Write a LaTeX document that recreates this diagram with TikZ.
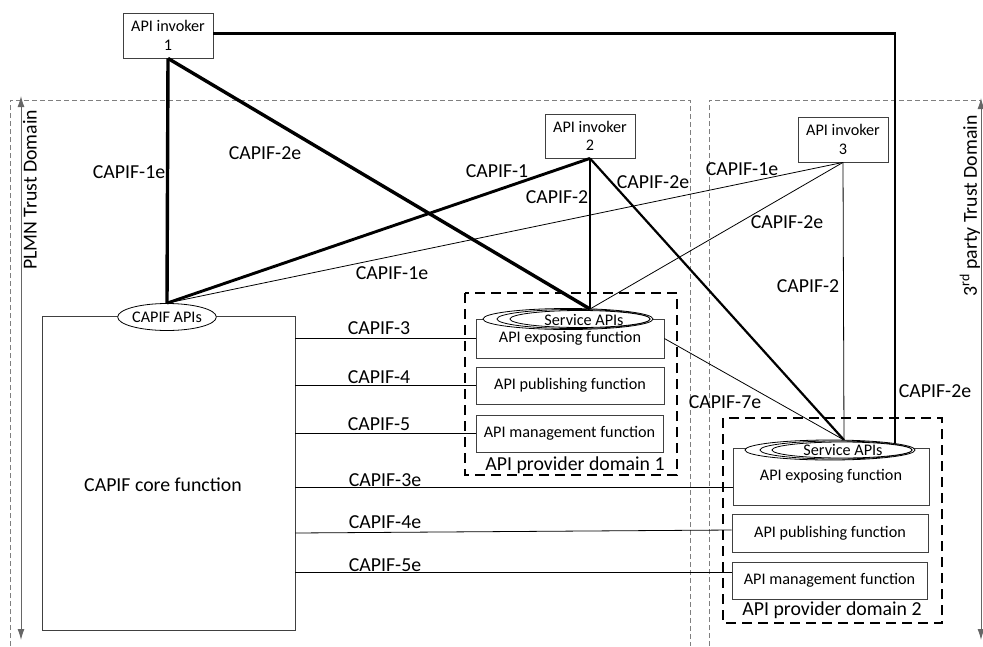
\documentclass[tikz,border=0pt]{standalone}
\usepackage{fontspec}
\setmainfont{Carlito}
\usetikzlibrary{shapes, arrows.meta, positioning}
\newcommand{\bigtxt}{\fontsize{19.8}{21}\selectfont}
\newcommand{\smalltxt}{\fontsize{16.2}{18.5}\selectfont}
\definecolor{boxgray}{HTML}{404040}
\definecolor{domgray}{HTML}{7F7F7F}
\tikzset{
    box/.style = {draw=boxgray, line width=0.8pt, inner sep=0pt, font=\smalltxt, align=center, fill=white}, % plain function box
    api/.style = {ellipse, draw=black, line width=0.8pt, inner sep=0pt, fill=white}, % API ellipse
    thinline/.style = {line width=0.8pt},
    lightline/.style = {line width=2.2pt},
    midline/.style = {line width=2.9pt},
    heavyline/.style = {line width=3.4pt},
    provbox/.style = {draw, line width=2pt, dash pattern=on 10pt off 6pt}, % provider domain
    trust/.style = {draw=domgray, line width=0.8pt, dash pattern=on 5pt off 3pt},
    trustarrow/.style = {draw=boxgray!80, line width=1pt, {Latex[length=11pt,width=7pt]}-{Latex[length=11pt,width=7pt]}},
    lbl/.style = {font=\bigtxt, inner sep=0pt}
}
\begin{document}
\begin{tikzpicture}[x=1pt, y=-1pt]
    \useasboundingbox (0,0) rectangle (983,646);
    % trust domains
    \draw[trust] (10,646) -- (10,100) -- (690,100) -- (690,646);
    \draw[trust] (709,646) -- (709,100) -- (981,100);
    \draw[trustarrow] (21,640) -- (21,96);
    \draw[trustarrow] (981,640) -- (981,98);
    \node[lbl, rotate=90] (plmn) at (30,190) {PLMN Trust Domain};
    \node[lbl, rotate=90] (third) at (970,206) {3\textsuperscript{rd} party Trust Domain};
    % invokers
    \node[box, minimum width=90pt, minimum height=45pt] (inv1) at (168,35.5) {API invoker\\1};
    \node[box, minimum width=90pt, minimum height=44pt] (inv2) at (590,136) {API invoker\\2};
    \node[box, minimum width=90pt, minimum height=45pt] (inv3) at (843,139.5) {API invoker\\3};
    % CAPIF core
    \node[box, minimum width=253pt, minimum height=314pt] (core) at (168.5,473) {};
    \node[lbl] (coretext) at (163,485) {CAPIF core function};
    \node[api, minimum width=98pt, minimum height=27pt, font=\smalltxt] (capifapis) at (167,317) {CAPIF APIs};
    % API provider domain 1
    \draw[provbox] (465,293) rectangle (677,475);
    \node[lbl] (dom1) at (575,465) {API provider domain 1};
    \node[box, minimum width=188pt, minimum height=39pt] (exp1) at (570,338.5) {API exposing function};
    \node[box, minimum width=188pt, minimum height=37pt] (pub1) at (570,385.5) {API publishing function};
    \node[box, minimum width=187pt, minimum height=37pt] (mgmt1) at (569.5,433.5) {API management function};
    \node[api, minimum width=170pt, minimum height=21pt] (sapi1a) at (568,319) {};
    \node[api, minimum width=153pt, minimum height=19pt] (sapi1b) at (573.5,319) {};
    \node[api, minimum width=140pt, minimum height=17pt] (sapi1) at (580,319) {};
    \node[font=\smalltxt, inner sep=0pt] (sapi1text) at (584,319.5) {Service APIs};
    % API provider domain 2
    \draw[provbox] (723,418) rectangle (942,623);
    \node[lbl] (dom2) at (832,610) {API provider domain 2};
    \node[box, minimum width=196pt, minimum height=57pt] (exp2) at (831,476.5) {API exposing function};
    \node[box, minimum width=196pt, minimum height=38pt] (pub2) at (830,533) {API publishing function};
    \node[box, minimum width=195pt, minimum height=37pt] (mgmt2) at (829.5,580.5) {API management function};
    \coordinate (sapi1top) at (590,309);
    \coordinate (sapi2top) at (844,440);
    \coordinate (sapi2right) at (895,443);
    % reference points
    \path (inv1.south) edge[heavyline] (capifapis.north);
    \path (inv1.south) edge[heavyline] (sapi1top);
    \path (inv2.south) edge[midline] (capifapis.north);
    \path (inv2.south) edge[midline] (sapi1top);
    \path (inv2.south) edge[lightline] (sapi2top);
    \path (inv3.south) edge[thinline] (capifapis.north);
    \path (inv3.south) edge[thinline] (sapi1top);
    \path (inv3.south) edge[thinline] (sapi2top);
    \path (exp1.east) edge[thinline] (sapi2top);
    \draw[midline] ([yshift=2pt]inv1.east) -| (sapi2right);
    \path (core.east |- exp1.west) edge[thinline] (exp1.west);
    \path (core.east |- pub1.west) edge[thinline] (pub1.west);
    \path (core.east |- mgmt1.west) edge[thinline] (mgmt1.west);
    \path (core.east |- 0,487) edge[thinline] (exp2.west |- 0,487);
    \path (core.east |- pub2.west) edge[thinline] ([yshift=3pt]pub2.west);
    \path (core.east |- 0,572) edge[thinline] (mgmt2.west |- 0,572);
    \node[api, minimum width=170pt, minimum height=20pt] (sapi2a) at (830,450) {};
    \node[api, minimum width=152pt, minimum height=18pt] (sapi2b) at (836,450) {};
    \node[api, minimum width=140pt, minimum height=16pt] (sapi2) at (842,450) {};
    \node[font=\smalltxt, inner sep=0pt] (sapi2text) at (843,450) {Service APIs};
    % reference point labels
    \node[lbl] (l1e) at (129,172) {CAPIF-1e};
    \node[lbl] (l2e) at (265,153) {CAPIF-2e};
    \node[lbl] (l1) at (497,171) {CAPIF-1};
    \node[lbl] (l2) at (557,197) {CAPIF-2};
    \node[lbl] (l2eb) at (653,182) {CAPIF-2e};
    \node[lbl] (l1eb) at (742,169) {CAPIF-1e};
    \node[lbl] (l2ec) at (787,222) {CAPIF-2e};
    \node[lbl] (l2b) at (808,286) {CAPIF-2};
    \node[lbl] (l7e) at (725,402) {CAPIF-7e};
    \node[lbl] (l2ed) at (935,391) {CAPIF-2e};
    \node[lbl] (l1ec) at (392,273) {CAPIF-1e};
    \node[lbl] (l3) at (379,328) {CAPIF-3};
    \node[lbl] (l4) at (379,377) {CAPIF-4};
    \node[lbl] (l5) at (379,424) {CAPIF-5};
    \node[lbl] (l3e) at (385,480) {CAPIF-3e};
    \node[lbl] (l4e) at (385,522) {CAPIF-4e};
    \node[lbl] (l5e) at (385,565) {CAPIF-5e};
\end{tikzpicture}
\end{document}
